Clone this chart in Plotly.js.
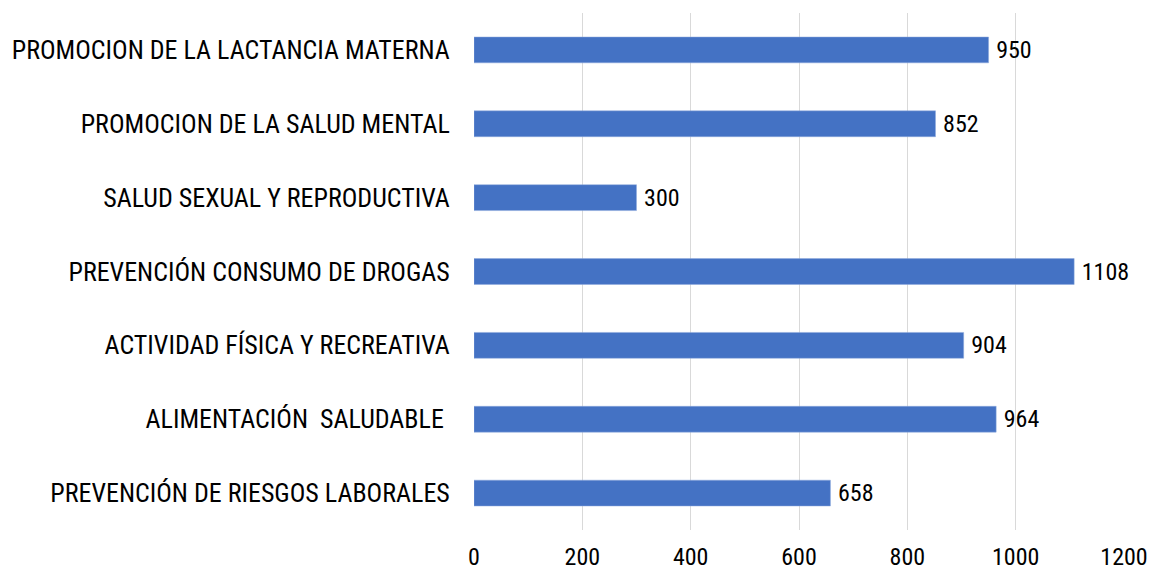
<!DOCTYPE html>
<html>
<head>
<meta charset="utf-8">
<script src="https://cdn.plot.ly/plotly-3.0.1.min.js"></script>
<style>html,body{margin:0;padding:0;background:#fff;}#chart{width:1149px;height:572px;}</style>
</head>
<body>
<div id="chart"></div>
<script>
const categories = [
  "PREVENCIÓN DE RIESGOS LABORALES",
  "ALIMENTACIÓN\u00a0\u00a0SALUDABLE\u00a0",
  "ACTIVIDAD FÍSICA Y RECREATIVA",
  "PREVENCIÓN CONSUMO DE DROGAS",
  "SALUD SEXUAL Y REPRODUCTIVA",
  "PROMOCION DE LA SALUD MENTAL",
  "PROMOCION DE LA LACTANCIA MATERNA"
];
const values = [658, 964, 904, 1108, 300, 852, 950];
const xTicks = [0, 200, 400, 600, 800, 1000, 1200];

const FONT = "'Liberation Sans Narrow', 'Arial Narrow', 'Roboto Condensed', sans-serif";

Plotly.newPlot('chart', [{
  type: 'bar',
  orientation: 'h',
  y: categories,
  x: values,
  marker: {color: '#4472C4', line: {color: '#8faadc', width: 0.5}},
  text: values.map(String),
  texttemplate: '\u2009%{text}',
  textposition: 'outside',
  constraintext: 'none',
  cliponaxis: false,
  textfont: {family: FONT, size: 24, color: '#000'},
  hoverinfo: 'none'
}], {
  width: 1149, height: 572,
  margin: {l: 474, r: 25, t: 13, b: 42},
  paper_bgcolor: '#fff', plot_bgcolor: '#fff',
  bargap: 0.65,
  showlegend: false,
  font: {family: FONT, size: 24, color: '#000'},
  xaxis: {
    range: [0, 1200],
    tickvals: xTicks,
    ticktext: xTicks.map(String),
    showgrid: true, gridcolor: '#d9d9d9', gridwidth: 1,
    zeroline: false, showline: false,
    ticks: 'outside', ticklen: 5, tickcolor: 'rgba(0,0,0,0)',
    tickfont: {family: FONT, size: 24, color: '#000'},
    fixedrange: true
  },
  yaxis: {
    type: 'category',
    categoryorder: 'array', categoryarray: categories,
    showgrid: false, zeroline: false, showline: false,
    ticks: 'outside', ticklen: 18, tickcolor: 'rgba(0,0,0,0)',
    tickfont: {family: FONT, size: 26, color: '#000'},
    fixedrange: true
  }
}, {displayModeBar: false, staticPlot: true});
</script>
</body>
</html>
